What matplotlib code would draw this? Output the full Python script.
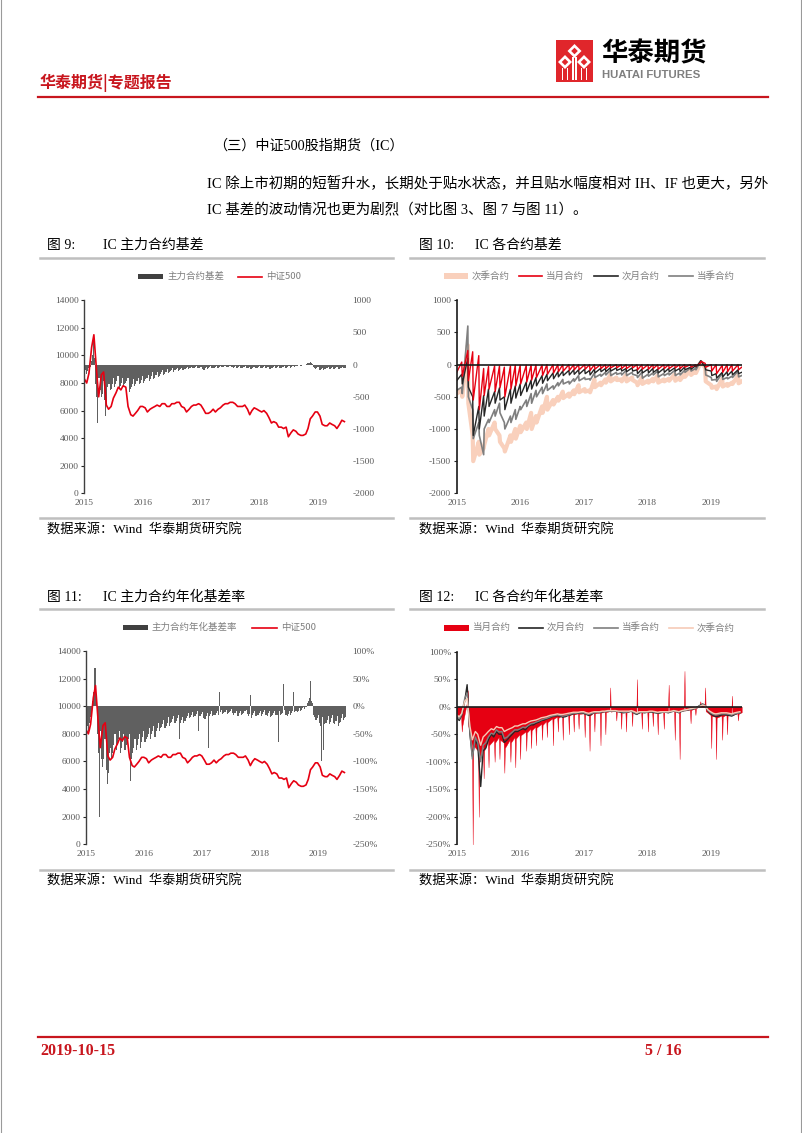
import numpy as np
import pandas as pd
import matplotlib
matplotlib.use("Agg")
import matplotlib.pyplot as plt
from matplotlib.patches import Rectangle, Polygon
from matplotlib.lines import Line2D

plt.rcParams["axes.unicode_minus"] = False
plt.rcParams["font.family"] = ["Noto Sans CJK SC", "DejaVu Sans"]

W, H = 802, 1133
SERIF = ["Liberation Serif", "Noto Sans CJK SC"]
CJK = ["Noto Sans CJK SC", "DejaVu Sans"]
RED = "#E60012"
HEAD_RED = "#C8161E"
AX_TXT = "#595959"
LEG_TXT = "#7F7F7F"
SEP = "#BFBFBF"
BAR_GRAY = "#606060"
SALMON = "#F9D0BC"

YEARS = ["2015", "2016", "2017", "2018", "2019"]
START = pd.Timestamp("2015-04-16")
END = pd.Timestamp("2019-10-11")

# ---- 中证500, half-monthly (first point 2015-04-16, then 1st/15th) ----
csi500 = [
    8300, 8000, 8700, 10600, 11500, 9000, 7000, 8600, 8800, 6400, 6100, 6300, 6900, 7300, 7700, 7500, 7800,
    7700, 6300, 5700, 5600, 5800, 6000, 6300, 6300, 6200, 5900, 6100, 6200, 6300, 6400, 6300, 6500,
    6500, 6300, 6300, 6500, 6500, 6600, 6600, 6300,
    6200, 5900, 6100, 6300, 6400, 6400, 6500, 6400, 6100, 5800, 5800, 5900, 6100, 5900, 6100, 6200,
    6400, 6500, 6500, 6600, 6600, 6500, 6300, 6300,
    6300, 6400, 6100, 5700, 6000, 6200, 6100, 6000, 5900, 6000, 5800, 5500, 5100, 5200, 5100, 4800,
    4800, 4700, 4800, 4100, 4400, 4600, 4500, 4300,
    4200, 4200, 4300, 4700, 5400, 5600, 5900, 5900, 5600, 5000, 4900, 4900, 5100, 5000, 4900, 4700,
    5000, 5300, 5200,
]

# ---- 主力合约基差, weekly (Fridays from 2015-04-17) ----
main_basis = [
    # 2015
    -50, -80, -150, -100, -60, -40, 60, 150, 450, 100, -300, -500, -900, -200, -400, -500,
    -450, -250, -550, -800, -600, -350, -300, -400, -380, -300, -200, -350, -300,
    -250, -180, -380, -330, -280, -200, -350, -300,
    # 2016
    -280, -250, -200, -420, -380, -350, -300, -230, -330, -300, -250, -200, -300,
    -280, -240, -180, -280, -260, -230, -200, -160, -250, -220, -180, -120, -230,
    -200, -160, -110, -190, -170, -150, -120, -80, -160, -140, -110, -70, -130, -120,
    -100, -80, -60, -110, -90, -70, -50, -100, -90, -70, -50, -90, -80,
    # 2017
    -70, -50, -30, -70, -60, -45, -30, -60, -55, -40, -25, -60, -50,
    -60, -40, -30, -70, -80, -60, -40, -70, -55, -40, -25, -50, -45,
    -45, -30, -20, -50, -45, -30, -20, -40, -35, -25, -15, -40, -35,
    -30, -25, -15, -40, -45, -35, -25, -55, -50, -35, -25, -50, -45,
    # 2018
    -40, -30, -20, -45, -60, -45, -30, -70, -55, -40, -30, -60, -50,
    -50, -40, -25, -55, -45, -35, -25, -50, -55, -40, -30, -65, -55,
    -50, -40, -25, -50, -45, -35, -25, -50, -45, -40, -30, -20, -45,
    -50, -40, -25, -45, -35, -25, -15, -30, -25, -25, -20, -10, -20,
    # 2019
    -15, -10, -5, -10, -5, 10, 20, 30, 40, 20, 10, -40, -50,
    -70, -60, -40, -80, -85, -70, -50, -80, -75, -70, -60, -40, -75,
    -65, -50, -35, -70, -70, -55, -40, -75, -70, -60, -45, -30, -55,
    -50, -45,
]

# ---- 主力合约年化基差率 (%), weekly ----
main_rate = [
    # 2015
    -25, -35, -45, -30, -20, -15, 10, 25, 70, 15, -50, -85, -200, -45, -95, -110,
    -95, -60, -115, -140, -120, -85, -75, -95, -85, -70, -50, -80, -70,
    -60, -45, -85, -75, -65, -50, -80, -70,
    # 2016
    -65, -60, -50, -135, -95, -85, -75, -60, -80, -70, -60, -50, -75,
    -65, -55, -45, -65, -60, -55, -50, -40, -60, -50, -45, -35, -55,
    -45, -40, -30, -45, -40, -38, -32, -25, -40, -35, -30, -20, -35, -30,
    -28, -24, -18, -30, -26, -22, -16, -60, -30, -25, -20, -30, -26,
    # 2017
    -22, -18, -12, -22, -20, -16, -10, -20, -18, -14, -9, -45, -18,
    -18, -14, -10, -22, -24, -18, -12, -75, -18, -14, -9, -17, -15,
    -15, -12, -8, -16, 25, -11, -7, -14, -13, -10, -6, -14, -12,
    -11, -9, -5, -13, -15, -12, -8, -18, -17, -13, -8, -16, -14,
    # 2018
    -12, -9, -6, -14, -18, -14, 20, -22, -16, -12, -8, -18, -15,
    -15, -12, -8, -17, -14, -11, -7, -16, -17, -13, -9, -20, -17,
    -16, -12, -8, -16, -15, -65, -8, -16, -14, -13, 40, -6, -15,
    -18, -14, -9, -16, -12, -9, 25, -11, -9, -10, -8, -4, -8,
    # 2019
    -6, -4, -2, -5, -2, 5, 10, 15, 45, 10, 5, -15, -20,
    -25, -22, -15, -30, -35, -100, -20, -80, -32, -30, -25, -18, -32,
    -28, -22, -15, -30, -32, -26, -18, -35, -30, -28, -22, -14, -25,
    -22, -20,
]

# ---- 各合约基差: start, then (expiry day, 3 days later) per month, then last day ----
cm_basis = [
    -120,
    40, -180, 220, -250, 200, -550, 140, -700, -60, -480, -30, -380, -20, -420, -20, -360,
    -40, -500, -20, -380, -10, -330, -10, -300, -10, -270, -5, -240, -5, -200, -5, -170,
    0, -150, 0, -130, 0, -110, 0, -100,
    0, -90, 0, -80, 0, -80, 0, -70, 0, -90, 0, -70, 0, -60, 0, -60, 0, -50, 0, -50, 0, -60, 0, -60,
    0, -50, 0, -80, 0, -70, 0, -70, 0, -60, 0, -70, 0, -60, 0, -60, 0, -50, 0, -60, 0, -40, 0, -40,
    0, -20, 20, 50, 20, -40, 0, -100, 0, -140, -10, -120, 0, -110, 0, -100, 0, -80,
    -40,
]
nm_basis = [
    -250,
    -150, -300, 100, -350, -500, -1100, -650, -1000, -480, -800, -380, -650, -420, -600, -360, -550,
    -500, -700, -380, -600, -330, -520, -300, -480, -270, -420, -240, -380, -200, -330, -170, -290,
    -150, -250, -130, -220, -110, -190, -100, -170,
    -90, -160, -80, -150, -80, -150, -70, -140, -90, -160, -70, -130, -60, -110, -60, -110,
    -50, -100, -50, -90, -60, -100, -60, -110,
    -50, -100, -80, -140, -70, -130, -70, -130, -60, -120, -70, -130, -60, -120, -60, -110,
    -50, -100, -60, -110, -40, -80, -40, -70,
    -20, -40, 50, 60, -40, -80, -100, -170, -140, -210, -120, -190, -110, -170, -100, -160, -80, -140,
    -120,
]
cq_basis = [
    -400,
    -350, -450, 600, -500, -700, -1150, -900, -1100, -1400, -1000, -850, -900, -700, -800, -600, -750,
    -900, -1000, -800, -900, -700, -850, -650, -700, -550, -650, -450, -600, -400, -500, -350, -450,
    -300, -400, -330, -380, -280, -330, -230, -300,
    -260, -300, -220, -260, -170, -250, -200, -230, -220, -240, -130, -200, -150, -180, -120, -160,
    -90, -170, -120, -150, -130, -160, -90, -170,
    -120, -150, -170, -200, -120, -210, -150, -180, -130, -160, -100, -190, -140, -170, -130, -160,
    -90, -170, -130, -160, -90, -120, -50, -100,
    -60, -80, 40, 60, -30, -160, -200, -240, -230, -260, -130, -230, -200, -220, -180, -200, -100, -190,
    -170,
]
nq_basis = [
    -450,
    -400, -500, 300, -600, -1100, -1500, -1200, -1400, -1300, -1250, -1000, -1100, -900, -1000, -1100, -1200,
    -1300, -1350, -1100, -1200, -1000, -1150, -950, -1050, -900, -1000, -750, -1000, -800, -900, -650, -750,
    -500, -700, -550, -620, -500, -560, -420, -520,
    -450, -500, -400, -460, -320, -430, -380, -420, -400, -430, -230, -350, -280, -320, -230, -280,
    -160, -260, -200, -240, -230, -260, -160, -260,
    -200, -240, -280, -320, -200, -300, -250, -280, -220, -260, -170, -280, -230, -260, -220, -250,
    -150, -250, -200, -240, -150, -190, -80, -160,
    -100, -130, 20, 40, -50, -260, -320, -360, -340, -380, -220, -340, -300, -330, -280, -300, -170, -290,
    -260,
]

# ---- 当月合约年化基差率 (%): start, then (4 days before, expiry, 3 days after) per month, then last ----
cm_rate = [
    -15,
    -18, -45, -35, 10, 30, -35, -70, -250, -70, -80, -200, -95,
    -70, -130, -80, -60, -110, -70, -60, -100, -65, -55, -95, -60,
    -65, -120, -75, -60, -100, -65, -55, -110, -58, -50, -95, -52,
    -45, -80, -47, -40, -75, -43, -36, -70, -38, -31, -60, -33,
    -26, -55, -28, -21, -70, -22, -18, -45, -20, -16, -60, -18,
    -14, -50, -16, -12, -45, -14, -12, -40, -13, -12, -55, -13,
    -14, -80, -16, -10, -45, -12, -10, -70, -11, -8, -50, -10,
    -8, 35, -9, -7, -25, -8, -9, -40, -10, -9, -45, -10,
    -7, -35, -8, -10, 50, -12, -9, -40, -10, -9, -45, -10,
    -8, -35, -9, -10, -50, -11, -9, -40, -10, -8, 40, -9,
    -7, -60, -8, -8, -95, -9, -6, 65, -7, -5, -30, -6,
    -3, -15, -3, 2, 10, 4, 3, 35, -8, -15, -75, -17,
    -18, -95, -20, -16, -60, -18, -14, -50, -16, -14, 20, -15,
    -12, -25, -13,
    -10,
]

# ---- 次月 / 当季 / 次季 年化基差率 (%), half-monthly like csi500 ----
nm_rate = [
    -20, -25, -15, 10, 40, -50, -90, -60, -70, -145, -80, -75, -60, -50, -55, -45, -50,
    -50, -65, -60, -55, -50, -45, -45, -42, -40, -42, -36, -33, -33, -30, -28, -25,
    -24, -22, -20, -18, -17, -16, -17, -19,
    -18, -16, -14, -13, -12, -12, -11, -12, -14, -16, -13, -11, -10, -11, -9, -9,
    -8, -8, -7, -8, -9, -10, -11, -10,
    -9, -8, -12, -14, -11, -10, -11, -10, -9, -10, -11, -12, -11, -10, -10, -11,
    -9, -8, -9, -11, -8, -7, -6, -5,
    -4, -3, 0, 3, 5, 2, -8, -13, -16, -18, -17, -15, -14, -15, -16, -17,
    -14, -12, -11,
]
cq_rate = [
    -18, -22, -14, 15, 25, -45, -95, -55, -65, -100, -70, -65, -55, -48, -50, -42, -46,
    -45, -58, -55, -50, -46, -42, -42, -40, -37, -38, -34, -31, -30, -28, -26, -24,
    -22, -21, -19, -17, -16, -15, -16, -17,
    -16, -15, -13, -12, -12, -11, -11, -11, -13, -14, -12, -11, -10, -10, -9, -9,
    -8, -8, -8, -8, -9, -9, -10, -10,
    -9, -8, -11, -13, -10, -10, -10, -10, -9, -9, -10, -11, -10, -10, -10, -10,
    -9, -8, -9, -10, -8, -7, -6, -5,
    -4, -3, -1, 2, 4, 2, -7, -11, -14, -15, -14, -13, -13, -13, -14, -15,
    -13, -12, -11,
]
nq_rate = [
    -15, -18, -12, 10, 15, -35, -60, -45, -50, -70, -55, -50, -45, -40, -42, -36, -38,
    -38, -45, -42, -40, -38, -35, -35, -33, -31, -31, -28, -26, -25, -24, -22, -20,
    -19, -18, -16, -15, -14, -13, -14, -14,
    -13, -12, -11, -10, -10, -10, -9, -9, -11, -12, -10, -9, -9, -9, -8, -8,
    -7, -7, -7, -7, -8, -8, -8, -8,
    -8, -7, -9, -11, -9, -9, -9, -9, -8, -8, -9, -10, -9, -9, -9, -9,
    -8, -7, -8, -9, -7, -6, -5, -4,
    -3, -2, -1, 1, 3, 1, -6, -9, -12, -13, -12, -11, -11, -11, -12, -13,
    -11, -10, -9,
]

# ---- date grids ----
semi_dates = [START] + list(pd.date_range("2015-05-01", periods=len(csi500) - 1, freq="SMS"))
week_dates = pd.date_range("2015-04-17", periods=len(main_basis), freq="W-FRI")
rate_week_dates = pd.date_range("2015-04-17", periods=len(main_rate), freq="W-FRI")
expiries = pd.date_range("2015-05-01", "2019-09-30", freq="WOM-3FRI")
day = pd.Timedelta(days=1)
pair_dates = [START] + [d for e in expiries for d in (e, e + 3 * day)] + [END]
triple_dates = [START] + [d for e in expiries for d in (e - 4 * day, e, e + 3 * day)] + [END]

fig = plt.figure(figsize=(W / 100, H / 100), dpi=100)
fig.patch.set_facecolor("white")


def fx(x):
    return x / W


def fy(y):
    return 1 - y / H


def add_ax(left, top, right, bottom):
    return fig.add_axes([left / W, 1 - bottom / H, (right - left) / W, (bottom - top) / H])


def hline(x0, x1, y, color, lw):
    fig.add_artist(Line2D([fx(x0), fx(x1)], [fy(y), fy(y)], transform=fig.transFigure, color=color, lw=lw))


def text(x, y, s, size, color="black", family=None, weight="normal", ha="left"):
    fig.text(fx(x), fy(y), s, fontsize=size, color=color, family=family or SERIF,
             weight=weight, ha=ha, va="center")


def legend_item(x0, x1, y, label, color, kind="line", lw=1.0, h=5):
    if kind == "patch":
        fig.add_artist(Rectangle((fx(x0), fy(y + h / 2)), (x1 - x0) / W, h / H,
                                 transform=fig.transFigure, color=color, lw=0))
    else:
        fig.add_artist(Line2D([fx(x0), fx(x1)], [fy(y), fy(y)], transform=fig.transFigure, color=color, lw=lw))
    text(x1 + 4, y, label, 6.8, LEG_TXT, family=CJK)


def style_time_axis(ax):
    ax.set_xlim(START, END)
    ax.set_xticks([START + pd.DateOffset(years=k) for k in range(len(YEARS))])
    ax.set_xticklabels(YEARS)
    ax.tick_params(axis="x", length=0, pad=4, labelsize=6.8, labelcolor=AX_TXT,
                   labelfontfamily="Liberation Serif")


def left_ticks(ax):
    ax.tick_params(axis="y", length=2.5, width=0.8, color="#262626", pad=1.5, labelsize=6.8,
                   labelcolor=AX_TXT, labelfontfamily="Liberation Serif")


def only_left_spine(ax, color="#262626", lw=1.0):
    for s in ax.spines.values():
        s.set_visible(False)
    ax.spines["left"].set_visible(True)
    ax.spines["left"].set_color(color)
    ax.spines["left"].set_linewidth(lw)


def dual_chart(box, bars_x, bars, bar_lim, bar_ticks, bar_labels):
    ax = add_ax(*box)
    ax.bar(bars_x, bars, width=7, color=BAR_GRAY, lw=0)
    ax2 = ax.twinx()
    ax2.plot(semi_dates, csi500, color=RED, lw=1.2)
    ax.yaxis.tick_right()
    ax2.yaxis.tick_left()
    ax.set_ylim(*bar_lim)
    ax.set_yticks(bar_ticks)
    ax.set_yticklabels(bar_labels)
    ax.tick_params(axis="y", length=0, pad=4.5, labelsize=6.8, labelcolor=AX_TXT,
                   labelfontfamily="Liberation Serif")
    ax2.set_ylim(0, 14000)
    ax2.set_yticks(range(0, 14001, 2000))
    left_ticks(ax2)
    style_time_axis(ax)
    for s in ax.spines.values():
        s.set_visible(False)
    only_left_spine(ax2, "#404040")


# ---------------- page frame ----------------
fig.add_artist(Line2D([fx(0.8), fx(0.8)], [0, 1], transform=fig.transFigure, color="#9A9A9A", lw=0.8))
fig.add_artist(Line2D([fx(800.5), fx(800.5)], [0, 1], transform=fig.transFigure, color="#9A9A9A", lw=0.8))

# logo
fig.add_artist(Rectangle((fx(556), fy(82)), 37 / W, 42 / H, transform=fig.transFigure,
                         color="#E0262B", lw=0))


def diamond(cx, cy, r, color):
    pts = [(fx(cx), fy(cy - r)), (fx(cx + r), fy(cy)), (fx(cx), fy(cy + r)), (fx(cx - r), fy(cy))]
    fig.add_artist(Polygon(pts, closed=True, transform=fig.transFigure, color=color, lw=0))


for cx, cy in [(574.5, 51), (565, 62), (584, 62)]:
    diamond(cx, cy, 7, "white")
    diamond(cx, cy, 3.3, "#E0262B")
for sx, y0 in [(562.5, 68), (567.5, 68), (581.5, 68), (586.5, 68), (572.8, 57), (576.2, 57)]:
    fig.add_artist(Rectangle((fx(sx - 0.8), fy(80)), 1.6 / W, (80 - y0) / H,
                             transform=fig.transFigure, color="white", lw=0))
text(601, 54, "华泰期货", 19, "black", family=CJK, weight="bold")
text(602, 75.5, "HUATAI FUTURES", 8.2, "#7F7F7F", family=["Liberation Sans"], weight="bold")

text(40, 83, "华泰期货|专题报告", 11.5, HEAD_RED, family=CJK, weight="bold")
hline(38, 768, 97, HEAD_RED, 1.6)

# body text
text(213, 146, "（三）中证500股指期货（IC）", 10.2)
text(207, 183, "IC 除上市初期的短暂升水，长期处于贴水状态，并且贴水幅度相对 IH、IF 也更大，另外", 10.45)
text(207, 210, "IC 基差的波动情况也更为剧烈（对比图 3、图 7 与图 11）。", 10.45)

# chart headers / separators / sources
for x_num, x_txt, y, num, title in [
    (47, 103, 245, "图 9:", "IC 主力合约基差"),
    (419, 475, 245, "图 10:", "IC 各合约基差"),
    (47, 103, 597.5, "图 11:", "IC 主力合约年化基差率"),
    (419, 475, 597.5, "图 12:", "IC 各合约年化基差率"),
]:
    text(x_num, y, num, 10)
    text(x_txt, y, title, 10)
for x0, x1 in [(40, 393), (410, 764)]:
    hline(x0, x1, 258.3, SEP, 1.8)
    hline(x0, x1, 518.3, SEP, 1.8)
    hline(x0, x1, 609.3, SEP, 1.8)
    hline(x0, x1, 870, SEP, 1.8)
for x, y in [(47, 530), (419, 530), (47, 881), (419, 881)]:
    text(x, y, "数据来源：Wind  华泰期货研究院", 9.5)

# ---------------- 图9 ----------------
dual_chart((84.3, 300.3, 346, 493.3), week_dates, main_basis, (-2000, 1000),
           list(range(-2000, 1001, 500)), [str(v) for v in range(-2000, 1001, 500)])
legend_item(138, 163, 276.7, "主力合约基差", "#404040", kind="patch", h=5)
legend_item(238, 262, 276.7, "中证500", RED, lw=1.2)

# ---------------- 图10 ----------------
ax10 = add_ax(456.7, 300.3, 741.7, 493.3)
ax10.plot(pair_dates, nq_basis, color=SALMON, lw=3.0)
ax10.plot(pair_dates, cq_basis, color="#7F7F7F", lw=1.2)
ax10.plot(pair_dates, nm_basis, color="#262626", lw=1.0)
ax10.plot(pair_dates, cm_basis, color=RED, lw=1.0)
ax10.axhline(0, color="#1A1A1A", lw=1.2)
ax10.set_ylim(-2000, 1000)
ax10.set_yticks(range(-2000, 1001, 500))
left_ticks(ax10)
style_time_axis(ax10)
only_left_spine(ax10, "#1A1A1A", 1.2)
legend_item(444, 468, 276, "次季合约", SALMON, kind="patch", h=6)
legend_item(519, 542, 276, "当月合约", RED, lw=1.2)
legend_item(594, 618, 276, "次月合约", "#262626", lw=1.2)
legend_item(669, 693, 276, "当季合约", "#7F7F7F", lw=1.2)

# ---------------- 图11 ----------------
rate_ticks = list(range(-250, 101, 50))
dual_chart((86, 651, 346, 844.3), rate_week_dates, main_rate, (-250, 100),
           rate_ticks, [f"{v}%" for v in rate_ticks])
legend_item(123, 148, 627.7, "主力合约年化基差率", "#404040", kind="patch", h=5)
legend_item(252, 277, 627.7, "中证500", RED, lw=1.2)

# ---------------- 图12 ----------------
ax12 = add_ax(456.7, 651.7, 741.7, 844.3)
ax12.fill_between(triple_dates, 0, cm_rate, color=RED, lw=0.3)
ax12.plot(semi_dates, nm_rate, color="#262626", lw=1.0)
ax12.plot(semi_dates, cq_rate, color="#7F7F7F", lw=1.0)
ax12.plot(semi_dates, nq_rate, color="#F6CBB7", lw=1.0)
ax12.axhline(0, color="#1A1A1A", lw=1.2)
ax12.set_ylim(-250, 100)
ax12.set_yticks(rate_ticks)
ax12.set_yticklabels([f"{v}%" for v in rate_ticks])
left_ticks(ax12)
style_time_axis(ax12)
only_left_spine(ax12, "#1A1A1A", 1.2)
legend_item(444, 469, 627.7, "当月合约", RED, kind="patch", h=6)
legend_item(519, 543, 627.7, "次月合约", "#262626", lw=1.2)
legend_item(594, 618, 627.7, "当季合约", "#7F7F7F", lw=1.2)
legend_item(669, 693, 627.7, "次季合约", "#F6CBB7", lw=1.2)

# ---------------- footer ----------------
hline(38, 768, 1037, HEAD_RED, 1.6)
text(40, 1051, "2019-10-15", 11.5, HEAD_RED, family=["Liberation Serif"], weight="bold")
text(645, 1051, "5 / 16", 11.5, HEAD_RED, family=["Liberation Serif"], weight="bold")

fig.savefig("out.png", dpi=100)
